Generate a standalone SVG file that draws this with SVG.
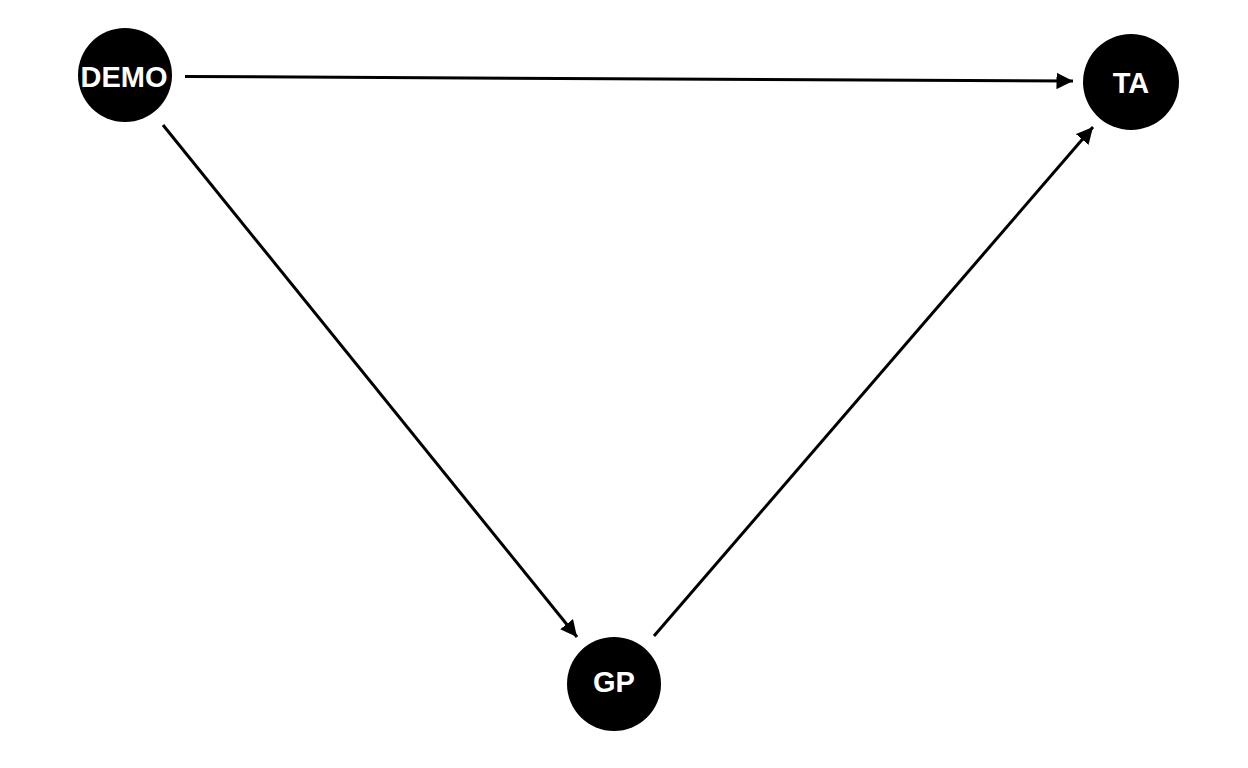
<svg xmlns="http://www.w3.org/2000/svg" width="1248" height="768" viewBox="0 0 1248 768">
<defs>
<marker id="arr" viewBox="0 0 10 10" refX="10" refY="5" markerWidth="5.5" markerHeight="5.5" markerUnits="strokeWidth" orient="auto">
<path d="M0,0 L10,5 L0,10 Z" fill="#000"/>
</marker>
<style>
.node circle{fill:#000}
.node text{fill:#fff;font-family:"Liberation Sans",Arial,sans-serif;font-weight:bold;font-size:29px;text-anchor:middle;dominant-baseline:central}
.edge{stroke:#000;stroke-width:3;fill:none;marker-end:url(#arr)}
</style>
</defs>
<rect width="1248" height="768" fill="#fff"/>
<g id="connectors">
<line class="edge" x1="185" y1="76.5" x2="1073" y2="81"/>
<line class="edge" x1="163" y1="125" x2="577" y2="637"/>
<line class="edge" x1="654" y1="636" x2="1093" y2="127"/>
</g>
<g id="DEMO" class="node">
<circle cx="125" cy="75" r="47"/>
<text x="124" y="77">DEMO</text>
</g>
<g id="TA" class="node">
<circle cx="1131" cy="82" r="48"/>
<text x="1131" y="83">TA</text>
</g>
<g id="GP" class="node">
<circle cx="614" cy="684" r="47"/>
<text x="614" y="682">GP</text>
</g>
</svg>
